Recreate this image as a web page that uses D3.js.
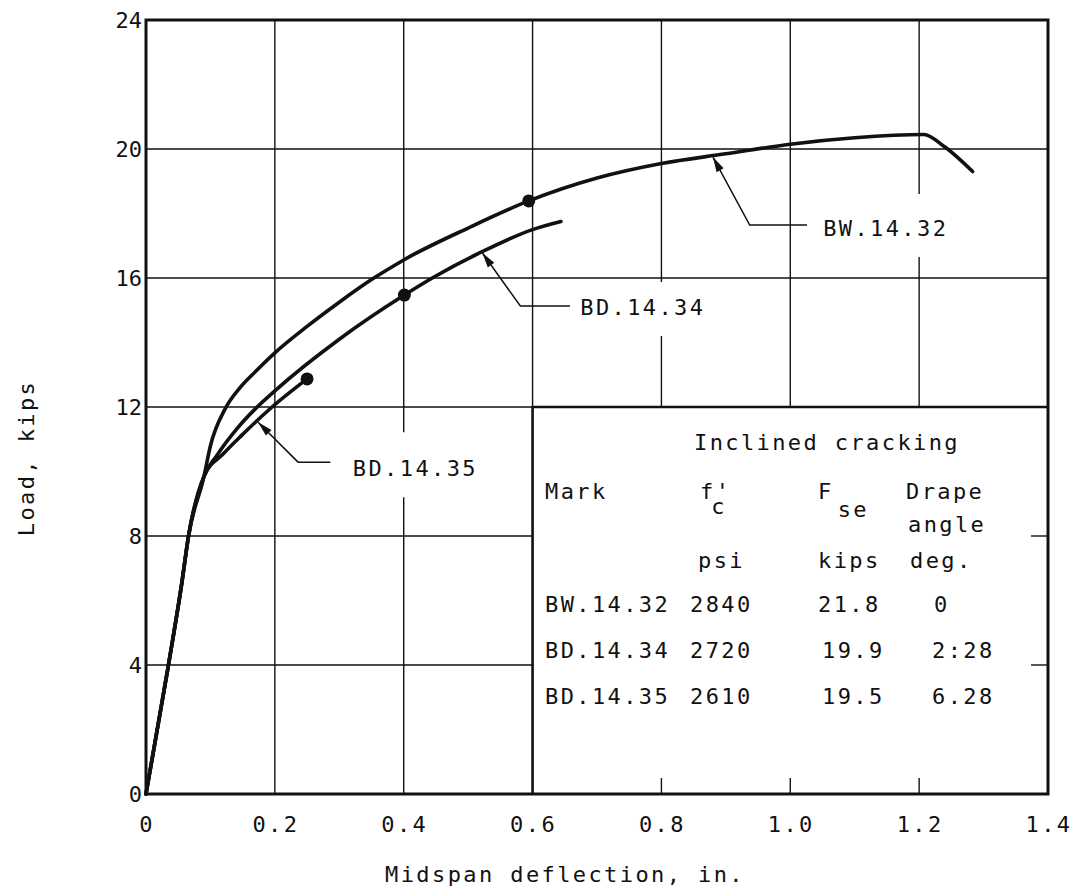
<!DOCTYPE html>
<html>
<head>
<meta charset="utf-8">
<script src="https://cdn.jsdelivr.net/npm/d3@7/dist/d3.min.js"></script>
<style>
    body { margin: 0; background: #fff; }
    svg text { font-family: "DejaVu Sans Mono", monospace; font-size: 22px; fill: #111; letter-spacing: 2.4px; }
</style>
</head>
<body>
<div id="chart"></div>
<script>
// Load vs midspan deflection, three beams

var xTicks = [0, 0.2, 0.4, 0.6, 0.8, 1.0, 1.2, 1.4];
var yTicks = [0, 4, 8, 12, 16, 20, 24];
var xTickLabels = ['0', '0.2', '0.4', '0.6', '0.8', '1.0', '1.2', '1.4'];

// curves (deflection in., load kips)
var bw1432X = [0, 0.034, 0.056, 0.066, 0.09, 0.1, 0.123, 0.146, 0.17, 0.2, 0.25, 0.3, 0.35, 0.4, 0.5, 0.594, 0.7, 0.8, 0.9, 1.0, 1.1, 1.207, 1.24, 1.283];
var bw1432Y = [0, 3.9, 6.6, 8.0, 9.85, 10.8, 11.95, 12.6, 13.1, 13.68, 14.5, 15.25, 15.95, 16.56, 17.55, 18.39, 19.1, 19.55, 19.85, 20.15, 20.35, 20.45, 20.06, 19.3];

var bd1434X = [0, 0.034, 0.056, 0.066, 0.09, 0.11, 0.14, 0.17, 0.2, 0.3, 0.401, 0.447, 0.52, 0.6, 0.644];
var bd1434Y = [0, 3.9, 6.6, 8.0, 9.85, 10.5, 11.3, 11.95, 12.5, 14.1, 15.47, 16.03, 16.8, 17.5, 17.75];

var bd1435X = [0, 0.034, 0.056, 0.066, 0.09, 0.12, 0.15, 0.19, 0.25];
var bd1435Y = [0, 3.9, 6.6, 8.0, 9.85, 10.55, 11.15, 11.9, 12.87];

// inclined cracking points (dots)
var crackX = [0.594, 0.401, 0.25];
var crackY = [18.39, 15.47, 12.87];

// curve labels: arrow tip, elbow, end of leader, label position
var labelNames = ['BW.14.32', 'BD.14.34', 'BD.14.35'];
var labelTip = [[0.880, 19.75], [0.522, 16.78], [0.174, 11.53]];
var labelElbow = [[0.937, 17.64], [0.581, 15.13], [0.236, 10.29]];
var labelEnd = [[1.026, 17.64], [0.658, 15.13], [0.286, 10.29]];
var labelPos = [[1.051, 17.55], [0.674, 15.1], [0.321, 10.1]];
var labelPadTop = [22, 13, 24];

// table of inclined cracking values
var tableMarks = ['BW.14.32', 'BD.14.34', 'BD.14.35'];
var tableFc = ['2840', '2720', '2610'];
var tableFse = ['21.8', '19.9', '19.5'];
var tableDrape = ['0', '2:28', '6.28'];

// inset box corner (lower right part of the plot is the table)
var boxX = 0.6, boxY = 12;

var width = 1077, height = 890;
var margin = { left: 146, right: 29, top: 20, bottom: 96 };

var xScale = d3.scaleLinear().domain([0, 1.4]).range([margin.left, width - margin.right]);
var yScale = d3.scaleLinear().domain([0, 24]).range([height - margin.bottom, margin.top]);

var svg = d3.select('#chart').append('svg')
    .attr('width', width)
    .attr('height', height);

var ink = '#111';
var x0 = xScale(0), x1 = xScale(1.4), y0 = yScale(0), y1 = yScale(24);
var bx = xScale(boxX), by = yScale(boxY);

// grid
var gridG = svg.append('g').attr('stroke', ink).attr('stroke-width', 1.4);
xTicks.filter(d => d > 0 && d < 1.4).forEach(function(d) {
    gridG.append('line')
        .attr('x1', xScale(d)).attr('x2', xScale(d))
        .attr('y1', y1).attr('y2', d >= boxX ? by : y0);
    if (d > boxX) {
        gridG.append('line')
            .attr('x1', xScale(d)).attr('x2', xScale(d))
            .attr('y1', y0).attr('y2', y0 - 16);
    }
});
yTicks.filter(d => d > 0 && d < 24).forEach(function(d) {
    gridG.append('line')
        .attr('y1', yScale(d)).attr('y2', yScale(d))
        .attr('x1', x0).attr('x2', d <= boxY ? bx : x1);
    if (d < boxY) {
        gridG.append('line')
            .attr('y1', yScale(d)).attr('y2', yScale(d))
            .attr('x1', x1 - 17).attr('x2', x1);
    }
});

// table box
svg.append('path')
    .attr('d', 'M' + bx + ',' + y0 + 'V' + by + 'H' + x1)
    .attr('fill', 'none').attr('stroke', ink).attr('stroke-width', 2.6);

// frame
svg.append('rect')
    .attr('x', x0).attr('y', y1)
    .attr('width', x1 - x0).attr('height', y0 - y1)
    .attr('fill', 'none').attr('stroke', ink).attr('stroke-width', 3);

// tick labels
svg.append('g').selectAll('text').data(xTicks).enter().append('text')
    .attr('x', d => xScale(d) + 1)
    .attr('y', y0 + 38)
    .attr('text-anchor', 'middle')
    .text((d, i) => xTickLabels[i]);

svg.append('g').selectAll('text').data(yTicks).enter().append('text')
    .attr('x', x0 - 4)
    .attr('y', d => yScale(d) + 8)
    .attr('text-anchor', 'end')
    .style('letter-spacing', '0px')
    .text(d => d);

// axis titles
svg.append('text')
    .attr('x', 565).attr('y', y0 + 88)
    .attr('text-anchor', 'middle')
    .text('Midspan deflection, in.');

svg.append('text')
    .attr('transform', 'translate(34,458) rotate(-90)')
    .attr('text-anchor', 'middle')
    .text('Load, kips');

// curves
var line = d3.line()
    .x(d => xScale(d[0]))
    .y(d => yScale(d[1]))
    .curve(d3.curveMonotoneX);

var series = [[bw1432X, bw1432Y], [bd1434X, bd1434Y], [bd1435X, bd1435Y]];
svg.append('g').selectAll('path').data(series).enter().append('path')
    .attr('d', s => line(s[0].map((x, i) => [x, s[1][i]])))
    .attr('fill', 'none')
    .attr('stroke', ink)
    .attr('stroke-width', 3.6)
    .attr('stroke-linejoin', 'round')
    .attr('stroke-linecap', 'round');

svg.append('g').selectAll('circle').data(crackX).enter().append('circle')
    .attr('cx', d => xScale(d))
    .attr('cy', (d, i) => yScale(crackY[i]))
    .attr('r', 6.5)
    .attr('fill', ink);

// curve labels with leaders and arrowheads
labelNames.forEach(function(name, i) {
    var g = svg.append('g');
    var t = g.append('text')
        .attr('x', xScale(labelPos[i][0]))
        .attr('y', yScale(labelPos[i][1]) + 8)
        .text(name);
    var bb = t.node().getBBox();
    g.insert('rect', 'text')
        .attr('x', bb.x - 8).attr('y', bb.y - labelPadTop[i])
        .attr('width', bb.width + 12).attr('height', bb.height + labelPadTop[i] + 16)
        .attr('fill', '#fff');

    var tip = [xScale(labelTip[i][0]), yScale(labelTip[i][1])];
    var elb = [xScale(labelElbow[i][0]), yScale(labelElbow[i][1])];
    var end = [xScale(labelEnd[i][0]), yScale(labelEnd[i][1])];
    svg.append('path')
        .attr('d', 'M' + tip + 'L' + elb + 'L' + end)
        .attr('fill', 'none').attr('stroke', ink).attr('stroke-width', 1.5);

    var dx = elb[0] - tip[0], dy = elb[1] - tip[1];
    var len = Math.sqrt(dx * dx + dy * dy);
    var ux = dx / len, uy = dy / len;
    var hl = 15, hw = 4;
    var bxp = tip[0] + ux * hl, byp = tip[1] + uy * hl;
    svg.append('path')
        .attr('d', 'M' + tip + 'L' + [bxp - uy * hw, byp + ux * hw] + 'L' + [bxp + uy * hw, byp - ux * hw] + 'Z')
        .attr('fill', ink);
});

// table text
var tg = svg.append('g');
tg.append('text').attr('x', 694).attr('y', by + 43).text('Inclined cracking');

var hy = by + 92;
tg.append('text').attr('x', 545).attr('y', hy).text('Mark');
var fc = tg.append('text').attr('x', 700).attr('y', hy).text("f'");
fc.append('tspan').attr('dx', -20).attr('dy', 15).text('c');
var fse = tg.append('text').attr('x', 818).attr('y', hy).text('F');
fse.append('tspan').attr('dx', 4).attr('dy', 18).text('se');
tg.append('text').attr('x', 906).attr('y', hy).text('Drape');
tg.append('text').attr('x', 908).attr('y', hy + 33).text('angle');
tg.append('text').attr('x', 698).attr('y', hy + 69).text('psi');
tg.append('text').attr('x', 818).attr('y', hy + 69).text('kips');
tg.append('text').attr('x', 910).attr('y', hy + 69).text('deg.');

var rowY = [by + 205, by + 251, by + 297];
tableMarks.forEach(function(m, i) {
    tg.append('text').attr('x', 545).attr('y', rowY[i]).text(m);
    tg.append('text').attr('x', 690).attr('y', rowY[i]).text(tableFc[i]);
    tg.append('text').attr('x', i === 0 ? 818 : 822).attr('y', rowY[i]).text(tableFse[i]);
    tg.append('text').attr('x', i === 0 ? 934 : 932).attr('y', rowY[i]).text(tableDrape[i]);
});
</script>
</body>
</html>
